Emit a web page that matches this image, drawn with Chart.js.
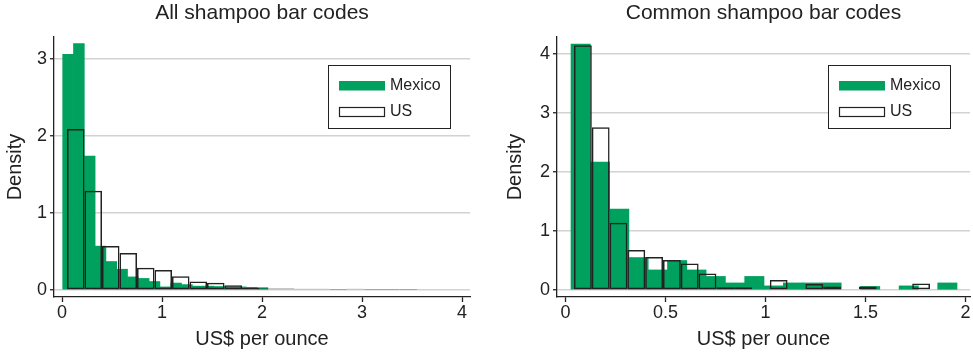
<!DOCTYPE html>
<html>
<head>
<meta charset="utf-8">
<script src="https://cdn.jsdelivr.net/npm/chart.js@4.4.1/dist/chart.umd.min.js"></script>
<style>
  html, body { margin: 0; padding: 0; background: #ffffff; }
  body { width: 973px; height: 354px; position: relative; overflow: hidden; }
  canvas { position: absolute; top: 0; }
  #allCodes { left: 0; }
  #commonCodes { left: 500px; }
</style>
</head>
<body>
<canvas id="allCodes" width="486" height="354"></canvas>
<canvas id="commonCodes" width="473" height="354"></canvas>
<script>
// ---- Histogram data: bin edges (US$ per ounce) and densities ----

// All shampoo bar codes
const allMexicoEdges = [0.007, 0.115, 0.223, 0.331, 0.439, 0.547, 0.655, 0.763, 0.871, 0.979,
                        1.087, 1.195, 1.303, 1.411, 1.519, 1.627, 1.735, 1.843, 1.951, 2.059];
const allMexicoDensity = [3.06, 3.20, 1.74, 0.57, 0.37, 0.27, 0.17, 0.15, 0.11, 0.04,
                          0.09, 0.07, 0.05, 0.05, 0.045, 0.04, 0.04, 0.035, 0.03];
const allUSEdges = [0.05, 0.225, 0.4, 0.575, 0.75, 0.925, 1.1, 1.275, 1.45, 1.625, 1.8,
                    1.975, 2.15, 2.325, 2.5, 2.675, 2.85, 3.025, 3.2, 3.375, 3.55];
const allUSDensity = [2.09, 1.29, 0.57, 0.48, 0.29, 0.26, 0.18, 0.11, 0.095, 0.06,
                      0.03, 0.02, 0.02, 0.015, 0.015, 0.004, 0.015, 0.004, 0.004, 0.004];

// Common shampoo bar codes
const commonMexicoEdges = [0.0275, 0.124, 0.2205, 0.317, 0.4135, 0.51, 0.6065, 0.703, 0.7995, 0.896,
                           0.9925, 1.089, 1.1855, 1.282, 1.3785, 1.475, 1.5715, 1.668, 1.7645, 1.861, 1.9575];
const commonMexicoDensity = [4.17, 2.17, 1.37, 0.55, 0.34, 0.50, 0.34, 0.23, 0.12, 0.23,
                             0.07, 0.12, 0.12, 0.12, 0, 0.06, 0, 0.07, 0, 0.12];
const commonUSEdges = [0.0425, 0.1315, 0.2205, 0.3095, 0.3985, 0.4875, 0.5765, 0.6655, 0.7545, 0.8435,
                       0.9325, 1.0215, 1.1105, 1.1995, 1.2885, 1.3775, 1.4665, 1.5555, 1.6445, 1.7335, 1.8225];
const commonUSDensity = [4.15, 2.76, 1.14, 0.68, 0.56, 0.51, 0.45, 0.28, 0.045, 0.045,
                         0, 0.17, 0, 0.10, 0.06, 0, 0.06, 0, 0, 0.11];

// Axis ticks
const allXTicks = [0, 1, 2, 3, 4];
const allXTickLabels = ['0', '1', '2', '3', '4'];
const allYTicks = [0, 1, 2, 3];
const commonXTicks = [0, 0.5, 1, 1.5, 2];
const commonXTickLabels = ['0', '0.5', '1', '1.5', '2'];
const commonYTicks = [0, 1, 2, 3, 4];

const seriesNames = ['Mexico', 'US'];

// ---- Styling ----
const GREEN = '#00a05e';
const INK = '#222222';
const GRID = '#d2d2d2';
const FONT = "'Liberation Sans', Arial, Helvetica, sans-serif";

// One bar per non-empty bin, centred between its edges
function binPoints(edges, density) {
  const pts = [];
  density.forEach((d, i) => {
    if (d > 0) pts.push({ x: (edges[i] + edges[i + 1]) / 2, y: d });
  });
  return pts;
}

// Boxed legend in the upper-right corner of the plot region
const boxLegend = {
  id: 'boxLegend',
  afterDatasetsDraw(chart) {
    const { ctx, chartArea } = chart;
    const w = 122, h = 63;
    const left = chartArea.right - 20 - w;
    const top = chartArea.top + 28;
    ctx.save();
    ctx.fillStyle = '#ffffff';
    ctx.fillRect(left, top, w, h);
    ctx.strokeStyle = INK;
    ctx.lineWidth = 1;
    ctx.strokeRect(left + 0.5, top + 0.5, w, h);
    ctx.font = '16px ' + FONT;
    ctx.textBaseline = 'middle';
    ctx.textAlign = 'left';
    chart.data.datasets.forEach((ds, i) => {
      const rowTop = top + 16 + i * 26;
      if (ds.backgroundColor !== 'rgba(0,0,0,0)') {
        ctx.fillStyle = ds.backgroundColor;
        ctx.fillRect(left + 11, rowTop, 46, 9.5);
      } else {
        ctx.fillStyle = '#ffffff';
        ctx.fillRect(left + 11, rowTop, 46, 9.5);
        ctx.strokeStyle = ds.borderColor;
        ctx.lineWidth = 1.2;
        ctx.strokeRect(left + 11.5, rowTop + 0.5, 45, 9);
      }
      ctx.fillStyle = INK;
      ctx.fillText(ds.label, left + 62, rowTop + 5);
    });
    ctx.restore();
  }
};

function makeHistogram(canvas, opt) {
  const tickFont = { family: FONT, size: 18 };
  const titleFont = { family: FONT, size: 20 };
  const fixedTicks = vals => scale => { scale.ticks = vals.map(v => ({ value: v })); };
  return new Chart(canvas, {
    type: 'bar',
    data: {
      datasets: [
        {
          label: seriesNames[0],
          data: binPoints(opt.mxEdges, opt.mxDensity),
          xAxisID: 'x',
          backgroundColor: GREEN,
          borderWidth: 0,
          grouped: false,
          barPercentage: 1,
          categoryPercentage: 1,
          order: 1
        },
        {
          label: seriesNames[1],
          data: binPoints(opt.usEdges, opt.usDensity),
          xAxisID: 'xUS',
          backgroundColor: 'rgba(0,0,0,0)',
          borderColor: INK,
          borderWidth: 1.5,
          borderSkipped: false,
          inflateAmount: 0,
          grouped: false,
          barPercentage: 1,
          categoryPercentage: 1,
          order: 0
        }
      ]
    },
    options: {
      responsive: false,
      animation: false,
      devicePixelRatio: 1,
      layout: { padding: { left: 0, top: 0, right: opt.padRight, bottom: 0 } },
      plugins: {
        legend: { display: false },
        tooltip: { enabled: false },
        title: {
          display: true,
          text: opt.title,
          fullSize: false,
          color: INK,
          font: { family: FONT, size: 21, weight: 'normal' },
          padding: { top: 1, bottom: 10.8 }
        }
      },
      scales: {
        x: {
          type: 'linear',
          position: 'bottom',
          offset: false,
          min: opt.xMin,
          max: opt.xMax,
          afterBuildTicks: fixedTicks(opt.xTicks),
          afterFit: s => { s.height = 57; },
          grid: { offset: false, drawOnChartArea: false, drawTicks: true, tickLength: 5, tickColor: INK, tickWidth: 1.3 },
          border: { display: true, color: INK, width: 1.3 },
          ticks: {
            color: INK, font: tickFont, padding: 0, maxRotation: 0, autoSkip: false,
            callback: (v, i) => opt.xTickLabels[i]
          },
          title: { display: true, text: 'US$ per ounce', color: INK, font: titleFont, padding: { top: 0, bottom: 3 } }
        },
        xUS: {
          type: 'linear',
          position: 'bottom',
          display: false,
          offset: false,
          grid: { offset: false },
          min: opt.xMin,
          max: opt.xMax,
          afterBuildTicks: fixedTicks(opt.xTicks)
        },
        y: {
          type: 'linear',
          min: opt.yMin,
          max: opt.yMax,
          afterBuildTicks: fixedTicks(opt.yTicks),
          afterFit: s => { s.width = opt.yAxisWidth; },
          grid: { color: GRID, lineWidth: 1.5, drawTicks: true, tickLength: 4, tickColor: INK, tickWidth: 1.3 },
          border: { display: true, color: INK, width: 1.3 },
          ticks: { color: INK, font: tickFont, padding: 3, callback: v => String(v) },
          title: { display: true, text: 'Density', color: INK, font: titleFont, padding: { top: 3.5, bottom: 0 } }
        }
      }
    },
    plugins: [boxLegend]
  });
}

makeHistogram(document.getElementById('allCodes'), {
  title: 'All shampoo bar codes',
  mxEdges: allMexicoEdges, mxDensity: allMexicoDensity,
  usEdges: allUSEdges, usDensity: allUSDensity,
  xTicks: allXTicks, xTickLabels: allXTickLabels, yTicks: allYTicks,
  xMin: -0.08, xMax: 4.08, yMin: -0.091, yMax: 3.286,
  yAxisWidth: 54, padRight: 16
});

makeHistogram(document.getElementById('commonCodes'), {
  title: 'Common shampoo bar codes',
  mxEdges: commonMexicoEdges, mxDensity: commonMexicoDensity,
  usEdges: commonUSEdges, usDensity: commonUSDensity,
  xTicks: commonXTicks, xTickLabels: commonXTickLabels, yTicks: commonYTicks,
  xMin: -0.0425, xMax: 2.0225, yMin: -0.1186, yMax: 4.288,
  yAxisWidth: 57, padRight: 3
});
</script>
</body>
</html>
